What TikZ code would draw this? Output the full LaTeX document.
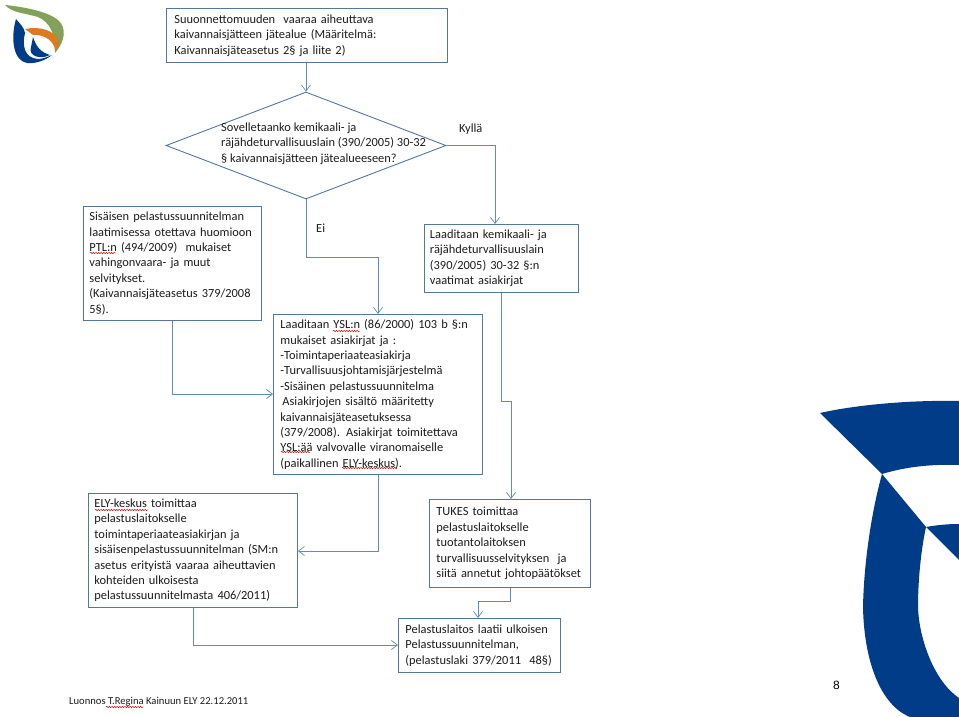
\documentclass[tikz,border=0pt]{standalone}
\usepackage{fontspec}
\setmainfont{Carlito}
\newfontfamily\numfont{Liberation Sans}
\usetikzlibrary{arrows.meta,shapes.geometric,decorations.pathmorphing}
\definecolor{edgeblue}{HTML}{5F8DB5}
\definecolor{boxline}{HTML}{55789A}
\definecolor{inktext}{HTML}{1C1C1C}
\definecolor{elyblue}{HTML}{003C87}
\definecolor{leafgreen}{HTML}{84A15A}
\definecolor{leaforange}{HTML}{DE7A1E}
\tikzset{
  flowbox/.style={draw=boxline,line width=0.9pt,rectangle,anchor=north west,inner sep=0pt,text=inktext,font=\fontsize{12.4}{15.4}\selectfont,align=left},
  flowtext/.style={text=inktext,font=\fontsize{12.4}{15.4}\selectfont,align=left,anchor=north west,inner sep=0pt},
  flowedge/.style={draw=edgeblue,line width=0.9pt,-{Straight Barb[length=6pt,width=9pt,line width=0.7pt]}},
  spellmark/.style={draw=red!80!black,line width=0.45pt,decorate,decoration={snake,amplitude=0.7pt,segment length=2.6pt}},
}
\begin{document}
\begin{tikzpicture}[x=1pt,y=-1pt]
\useasboundingbox[fill=white] (0,0) rectangle (959,717);
% large emblem, lower right
\fill[elyblue] (820,413) .. controls (860,404) and (915,400) .. (959,401) -- (959,465) .. controls (930,464) and (905,467) .. (882,474) -- cycle;
\fill[elyblue] (882,474) -- (926,527) .. controls (921,550) and (918,580) .. (918,607) .. controls (919,640) and (935,682) .. (959,698) -- (959,717) -- (910,717) .. controls (880,705) and (864,660) .. (863,607) .. controls (864,560) and (872,510) .. (882,474) -- cycle;
\fill[elyblue] (926,527) .. controls (937,525) and (948,524) .. (959,524) -- (959,560) -- cycle;
% small logo, upper left
\fill[leafgreen] (5,5) .. controls (25,7) and (50,12) .. (59,21) .. controls (66,28) and (66,40) .. (55,53) .. controls (56,35) and (50,22) .. (38,17) .. controls (25,13) and (12,13) .. (5,5) -- cycle;
\fill[elyblue] (16,19) .. controls (20,24) and (24,27) .. (25,33) .. controls (22,45) and (24,58) .. (38,59) .. controls (43,59) and (47,57) .. (52,55) .. controls (46,60) and (36,64) .. (27,63) .. controls (14,61) and (10,40) .. (16,19) -- cycle;
\fill[elyblue] (33,37) .. controls (36,46) and (40,52) .. (50,55) .. controls (40,60) and (28,56) .. (31,47) -- cycle;
\fill[leaforange] (25,29) .. controls (40,26) and (55,30) .. (59,42) .. controls (59,46) and (57,48) .. (55,51) .. controls (55,42) and (45,34) .. (33,35) -- cycle;
% nodes
\node[flowbox,minimum width=281pt,minimum height=54pt,text width=265pt] (topbox) at (166,8) {Suuonnettomuuden~ vaaraa aiheuttava\\kaivannaisjätteen jätealue (Määritelmä:\\Kaivannaisjäteasetus 2§ ja liite 2)};
\node[draw=boxline,line width=0.9pt,diamond,aspect=2.62,inner sep=0pt,minimum width=280pt,minimum height=107pt] (question) at (306,145.5) {};
\node[flowtext] (questiontext) at (221,122.5) {Sovelletaanko kemikaali- ja\\räjähdeturvallisuuslain (390/2005) 30-32\\§ kaivannaisjätteen jätealueeseen?};
\node[flowtext] (yes) at (459,124) {Kyllä};
\node[flowtext] (no) at (316,224) {Ei};
\node[flowbox,minimum width=178pt,minimum height=114pt,text width=166pt] (leftbox) at (83,206) {Sisäisen pelastussuunnitelman\\laatimisessa otettava huomioon\\PTL:n (494/2009)~ mukaiset\\vahingonvaara- ja muut\\selvitykset.\\(Kaivannaisjäteasetus 379/2008\\5§).};
\node[flowbox,minimum width=154pt,minimum height=68pt,text width=143pt] (rightbox) at (424,224) {Laaditaan kemikaali- ja\\räjähdeturvallisuuslain\\(390/2005) 30-32 §:n\\vaatimat asiakirjat};
\node[flowbox,minimum width=209pt,minimum height=160pt,text width=195pt] (midbox) at (273,314) {Laaditaan YSL:n (86/2000) 103 b §:n\\mukaiset asiakirjat ja :\\-Toimintaperiaateasiakirja\\-Turvallisuusjohtamisjärjestelmä\\-Sisäinen pelastussuunnitelma\\\hspace*{2pt}Asiakirjojen sisältö määritetty\\kaivannaisjäteasetuksessa\\(379/2008). Asiakirjat toimitettava\\YSL:ää valvovalle viranomaiselle\\(paikallinen ELY-keskus).};
\node[flowbox,minimum width=209pt,minimum height=114pt,text width=197pt] (elybox) at (88,493) {ELY-keskus toimittaa\\pelastuslaitokselle\\toimintaperiaateasiakirjan ja\\sisäisenpelastussuunnitelman (SM:n\\asetus erityistä vaaraa aiheuttavien\\kohteiden ulkoisesta\\pelastussuunnitelmasta 406/2011)};
\node[flowbox,minimum width=161pt,minimum height=88pt,text width=147pt] (tukesbox) at (429,499) {TUKES toimittaa\\pelastuslaitokselle\\tuotantolaitoksen\\turvallisuusselvityksen~ ja\\siitä annetut johtopäätökset};
\node[flowbox,minimum width=162pt,minimum height=54pt,text width=148pt] (finalbox) at (398,618) {Pelastuslaitos laatii ulkoisen\\Pelastussuunnitelman,\\(pelastuslaki 379/2011~ 48§)};
\node[anchor=west,inner sep=0pt,text=inktext,font=\fontsize{10.6}{12}\selectfont] (footer) at (69,702) {Luonnos T.Regina Kainuun ELY 22.12.2011};
\node[inner sep=0pt,text=black,font=\numfont\fontsize{12}{14}\selectfont] (pagenum) at (836.5,685) {8};
% connectors
\draw[flowedge] (306,0 |- topbox.south) -- (306,0 |- question.north);
\draw[flowedge] (question.east) -- (495,0 |- question.east) -- (495,0 |- rightbox.north);
\draw[flowedge] (question.south) -- (306,257) -- (378,257) -- (378,0 |- midbox.north);
\draw[flowedge] (172,0 |- leftbox.south) -- (172,394) -- (midbox.west |- 0,394);
\draw[flowedge] (378,0 |- midbox.south) -- (378,551) -- (elybox.east |- 0,551);
\draw[flowedge] (501,0 |- rightbox.south) -- (501,401) -- (511,401) -- (511,0 |- tukesbox.north);
\draw[flowedge] (510,0 |- tukesbox.south) -- (510,601) -- (478,601) -- (478,0 |- finalbox.north);
\draw[flowedge] (193,0 |- elybox.south) -- (193,645) -- (finalbox.west |- 0,645);
% spell-check marks
\path[spellmark] (333,331) -- (360,331);
\path[spellmark] (281,452) -- (310,452);
\path[spellmark] (342,468) -- (397,468);
\path[spellmark] (95,510) -- (148,510);
\path[spellmark] (106,707) -- (144,707);
\path[spellmark] (90,253) -- (116,253);
\end{tikzpicture}
\end{document}
